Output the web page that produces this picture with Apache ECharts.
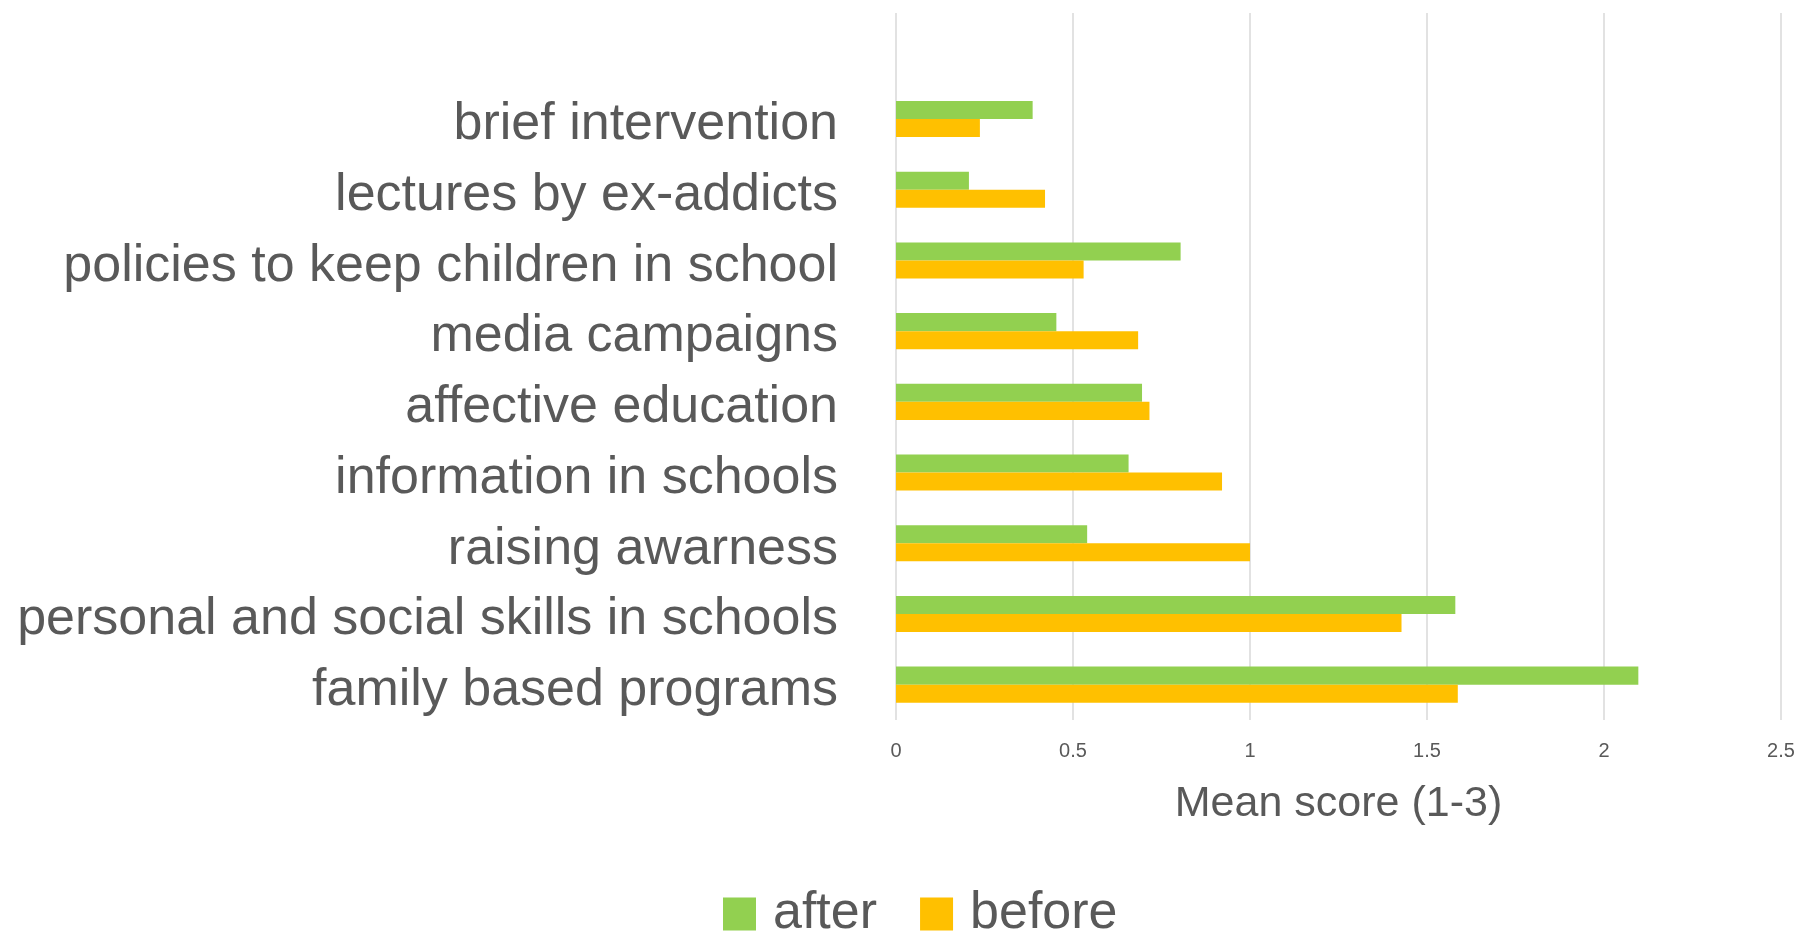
<!DOCTYPE html>
<html>
<head>
<meta charset="utf-8">
<script src="https://cdn.jsdelivr.net/npm/echarts@6/dist/echarts.min.js"></script>
<style>
html,body{margin:0;padding:0;background:#fff;}
#chart{width:1798px;height:933px;}
</style>
</head>
<body>
<div id="chart"></div>
<script>
const categories = ['', 'brief intervention', 'lectures by ex-addicts', 'policies to keep children in school', 'media campaigns', 'affective education', 'information in schools', 'raising awarness', 'personal and social skills in schools', 'family based programs'];
const afterValues = [null, 0.386, 0.206, 0.804, 0.453, 0.695, 0.657, 0.540, 1.580, 2.097];
const beforeValues = [null, 0.237, 0.421, 0.530, 0.684, 0.716, 0.921, 1.000, 1.428, 1.587];
const seriesNames = ['after', 'before'];
const xTicks = { min: 0, max: 2.5, interval: 0.5 };
const axisTitle = 'Mean score (1-3)';

const FONT = "'Liberation Sans', Arial, sans-serif";
const TXT = '#595959';

const chart = echarts.init(document.getElementById('chart'), null, { renderer: 'canvas' });
chart.setOption({
  backgroundColor: '#ffffff',
  animation: false,
  grid: { left: 896, right: 17, top: 13, bottom: 213, containLabel: false, outerBoundsMode: 'none' },
  legend: {
    data: seriesNames,
    left: 718,
    top: 883,
    itemWidth: 33,
    itemHeight: 33,
    itemGap: 43,
    icon: 'rect',
    textStyle: { fontFamily: FONT, fontSize: 52, color: TXT, padding: [0, 0, 0, 12], lineHeight: 52 }
  },
  xAxis: {
    type: 'value',
    min: xTicks.min, max: xTicks.max, interval: xTicks.interval,
    name: axisTitle,
    nameLocation: 'middle',
    nameGap: 63,
    nameTextStyle: { fontFamily: FONT, fontSize: 43, color: TXT },
    axisLine: { show: false },
    axisTick: { show: false },
    axisLabel: { fontFamily: FONT, fontSize: 20, color: TXT, margin: 21 },
    splitLine: { show: true, lineStyle: { color: '#d9d9d9', width: 1.5 } }
  },
  yAxis: {
    type: 'category',
    data: categories,
    inverse: true,
    axisLine: { show: false },
    axisTick: { show: false },
    axisLabel: {
      interval: 0, fontFamily: FONT, fontSize: 52, color: TXT, margin: 58,
      formatter: function (v) { return v ? '{c|' + v + '}' : ''; },
      rich: { c: { fontFamily: FONT, fontSize: 52, color: TXT, padding: [12, 0, 0, 0] } }
    },
    splitLine: { show: false }
  },
  series: [
    { name: seriesNames[0], type: 'bar', data: afterValues, barGap: '0%', barCategoryGap: '49%',
      itemStyle: { color: '#92D050' } },
    { name: seriesNames[1], type: 'bar', data: beforeValues, barGap: '0%', barCategoryGap: '49%',
      itemStyle: { color: '#FFC000' } }
  ]
});
</script>
</body>
</html>
